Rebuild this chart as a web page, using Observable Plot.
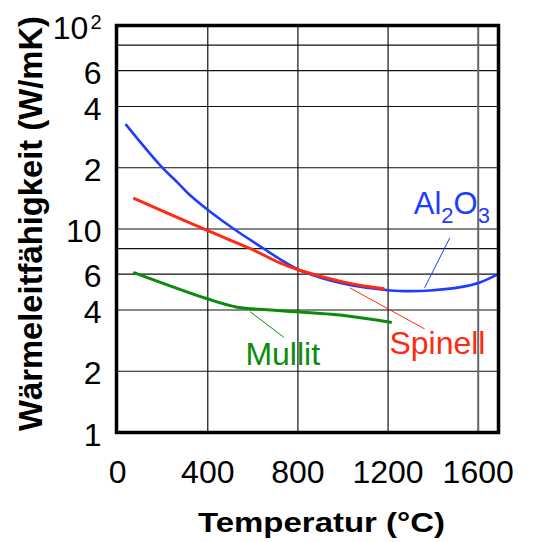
<!DOCTYPE html>
<html><head><meta charset="utf-8">
<script src="https://cdn.jsdelivr.net/npm/d3@7"></script>
<script src="https://cdn.jsdelivr.net/npm/@observablehq/plot@0.6"></script>
<style>body{margin:0;background:#fff}</style>
</head><body><div id="chart"></div>
<script>
// ---- data ----
const al2o3T = [38, 190, 264, 323, 405, 516, 649, 723, 811, 1004, 1211, 1300, 1388, 1521, 1610, 1690];
const al2o3V = [32.5, 20.5, 17.0, 14.6, 12.3, 10.0, 8.0, 7.08, 6.25, 5.38, 4.99, 4.95, 4.99, 5.18, 5.48, 6.02];
const spinellT = [75, 405, 590, 723, 811, 1004, 1180];
const spinellV = [14.1, 9.75, 8.0, 6.79, 6.25, 5.48, 5.08];
const mullitT = [75, 398, 531, 708, 1004, 1211];
const mullitV = [6.09, 4.54, 4.13, 3.98, 3.76, 3.48];

const seriesColors = ["#1f3cff", "#ff2a10", "#0a8c0a"];
const labelText = ["Al2O3", "Spinell", "Mullit"];
const labelT = [1314, 1206, 567];
const labelV = [13.2, 2.74, 2.40];
const leaderX1 = [1474, 1030, 587];
const leaderY1 = [9.05, 5.14, 3.93];
const leaderX2 = [1362, 1362, 737];
const leaderY2 = [5.14, 3.23, 2.94];

const xTicks = [0, 400, 800, 1200, 1600];
const xTickLabels = ["0", "400", "800", "1200", "1600"];
const yTicks = [1, 2, 4, 6, 10, 20, 40, 60, 100];
const yTickLabels = ["1", "2", "4", "6", "10", "2", "4", "6", "102"];
const xGrid = [400, 800, 1200, 1600];
const yGrid = [2, 4, 6, 8, 10, 20, 40, 60, 80];
const xTitle = "Temperatur (°C)";
const yTitle = "Wärmeleitfähigkeit (W/mK)";

// ---- build ----
const toRows = (T, V) => T.map((t, i) => ({t, v: V[i]}));
const series = [toRows(al2o3T, al2o3V), toRows(spinellT, spinellV), toRows(mullitT, mullitV)];
const xLab = new Map(xTicks.map((d, i) => [d, xTickLabels[i]]));
const yLab = new Map(yTicks.map((d, i) => [d, yTickLabels[i]]));
const idx = labelText.map((_, i) => i);

const chart = Plot.plot({
  width: 535, height: 542,
  marginLeft: 116, marginRight: 37, marginTop: 25, marginBottom: 110,
  style: {fontFamily: "'Liberation Sans', Arial, sans-serif", background: "white", color: "black", overflow: "visible"},
  x: {domain: [-5, 1690], label: null, axis: null},
  y: {type: "log", domain: [1, 100], label: null, axis: null},
  marks: [
    Plot.ruleY(yGrid, {stroke: "#111", strokeWidth: 1.2}),
    Plot.ruleX(xGrid, {stroke: d => d === 1600 ? "#666" : "#111", strokeWidth: d => d === 1600 ? 2 : 1.2}),
    Plot.text(xTicks, {x: d => d, frameAnchor: "bottom", textAnchor: "middle", lineAnchor: "top", dy: 28, text: d => xLab.get(d), fontSize: 32}),
    Plot.text(yTicks, {y: d => d, frameAnchor: "left", textAnchor: "end", lineAnchor: "middle", dx: -15, dy: 3, text: d => yLab.get(d), fontSize: 32}),
    ...series.map((rows, i) => Plot.line(rows, {x: "t", y: "v", stroke: seriesColors[i], strokeWidth: i === 0 ? 2.6 : 3, curve: "catmull-rom"})),
    ...idx.map(i => Plot.link([i], {x1: d => leaderX1[d], y1: d => leaderY1[d], x2: d => leaderX2[d], y2: d => leaderY2[d], stroke: seriesColors[i], strokeWidth: 1})),
    ...idx.map(i => Plot.text([i], {x: d => labelT[d], y: d => labelV[d], text: d => labelText[d], fill: seriesColors[i], fontSize: i === 0 ? 31 : 32, textAnchor: "start", lineAnchor: "middle"})),
    Plot.text([xTitle], {frameAnchor: "bottom", textAnchor: "middle", lineAnchor: "middle", dx: 14, dy: 90.7, fontSize: 28, fontWeight: "bold"}),
    Plot.text([yTitle], {frameAnchor: "left", textAnchor: "middle", lineAnchor: "middle", rotate: -90, dx: -85, dy: -5.5, fontSize: 34, fontWeight: "bold"}),
    Plot.frame({stroke: "black", strokeWidth: 3.5})
  ]
});

d3.select(chart).selectAll("text").each(function () {
  const t = this.textContent;
  const el = d3.select(this);
  if (t === "Al2O3") {
    el.text(null);
    el.append("tspan").text("Al");
    el.append("tspan").attr("dy", 9).attr("font-size", 22).text("2");
    el.append("tspan").attr("dy", -9).text("O");
    el.append("tspan").attr("dy", 9).attr("font-size", 22).text("3");
  } else if (t === "102") {
    el.text(null);
    el.append("tspan").text("10");
    el.append("tspan").attr("dy", -10).attr("dx", 2).attr("font-size", 20).text("2");
  } else if (t === xTitle) {
    el.attr("textLength", 247).attr("lengthAdjust", "spacingAndGlyphs");
  } else if (t === yTitle) {
    el.attr("textLength", 415).attr("lengthAdjust", "spacingAndGlyphs");
  }
});

document.getElementById("chart").appendChild(chart);
</script>
</body></html>
